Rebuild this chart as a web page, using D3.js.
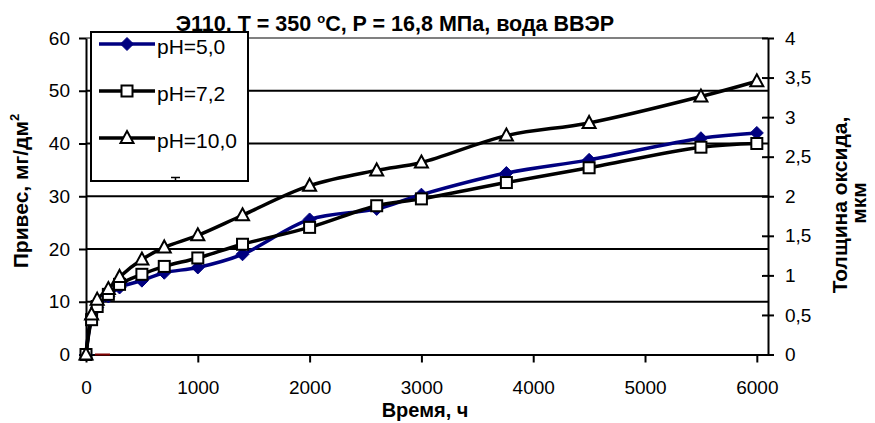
<!DOCTYPE html>
<html>
<head>
<meta charset="utf-8">
<script src="https://cdn.jsdelivr.net/npm/d3@7"></script>
<style>
  body { margin: 0; background: #fff; }
  text { font-family: "Liberation Sans", Arial, sans-serif; }
</style>
</head>
<body>
<script>
// time, h
var times = [0, 50, 100, 200, 300, 500, 700, 1000, 1400, 2000, 2600, 3000, 3760, 4500, 5500, 6000];
// weight gain, mg/dm2
var ph50 = [0, 6.8, 8.9, 11.0, 12.7, 14.0, 15.5, 16.5, 19.0, 25.6, 27.6, 30.3, 34.4, 36.9, 41.0, 42.0];
var ph72 = [0, 6.6, 9.1, 11.4, 13.3, 15.2, 16.7, 18.3, 20.9, 24.1, 28.2, 29.5, 32.6, 35.4, 39.3, 40.0];
var ph100 = [0, 7.6, 10.4, 12.4, 14.7, 18.0, 20.3, 22.6, 26.4, 32.0, 34.9, 36.4, 41.5, 43.9, 48.9, 51.8];
var seriesNames = ["pH=5,0", "pH=7,2", "pH=10,0"];

var xTicks = [0, 1000, 2000, 3000, 4000, 5000, 6000];
var yTicks = [0, 10, 20, 30, 40, 50, 60];
var y2Ticks = [0, 0.5, 1, 1.5, 2, 2.5, 3, 3.5, 4];
// short dark red stub lying on the zero line
var redStub = [[80, 0], [215, 0]];

const w = 875;
const h = 423;
const padL = 86, padR = 768, padT = 38, padB = 354.5;

const xScale = d3.scaleLinear().domain([0, 6100]).range([padL, padR]);
const yScale = d3.scaleLinear().domain([0, 60]).range([padB, padT]);
const y2Scale = d3.scaleLinear().domain([0, 4]).range([padB, padT]);

const svg = d3.select("body")
    .append("svg")
    .attr("width", w)
    .attr("height", h);

// gridlines
svg.selectAll("line.grid")
    .data(yTicks.filter((d) => d > 0 && d < 60))
    .enter()
    .append("line")
    .attr("class", "grid")
    .attr("x1", padL)
    .attr("x2", padR)
    .attr("y1", (d) => yScale(d))
    .attr("y2", (d) => yScale(d))
    .attr("stroke", "#000")
    .attr("stroke-width", 2);

// top border of plot area
svg.append("line")
    .attr("x1", padL).attr("x2", padR)
    .attr("y1", yScale(60)).attr("y2", yScale(60))
    .attr("stroke", "#808080")
    .attr("stroke-width", 2);

// axes
const xAxis = d3.axisBottom(xScale).tickValues(xTicks).tickSize(8).tickSizeOuter(0).tickPadding(18)
    .tickFormat(d3.format("d"));
const yAxis = d3.axisLeft(yScale).tickValues(yTicks).tickSize(7).tickSizeOuter(0).tickPadding(9);
const y2Axis = d3.axisRight(y2Scale).tickValues(y2Ticks).tickSize(6).tickSizeOuter(0).tickPadding(11)
    .tickFormat((d) => String(d).replace(".", ","));

svg.append("g")
    .attr("transform", "translate(0," + padB + ")")
    .call(xAxis);
svg.append("g")
    .attr("transform", "translate(" + padL + ",0)")
    .call(yAxis);
const g2 = svg.append("g")
    .attr("transform", "translate(" + padR + ",0)")
    .call(y2Axis);
// right ticks cross the axis
g2.selectAll(".tick line").attr("x1", -6);

svg.selectAll(".domain").attr("stroke", "#000").attr("stroke-width", 2);
svg.selectAll(".tick line").attr("stroke", "#000").attr("stroke-width", 2);
svg.selectAll(".tick text")
    .attr("fill", "#000")
    .style("font-size", "19px")
    .style("font-family", "'Liberation Sans', Arial, sans-serif");

svg.append("path")
    .datum(redStub)
    .attr("fill", "none")
    .attr("stroke", "#800000")
    .attr("stroke-width", 2)
    .attr("d", d3.line().x((d) => xScale(d[0])).y((d) => yScale(d[1])));

// series
var series = [
    { name: seriesNames[0], values: ph50, color: "#000080", marker: "diamond" },
    { name: seriesNames[1], values: ph72, color: "#000000", marker: "square" },
    { name: seriesNames[2], values: ph100, color: "#000000", marker: "triangle" }
];

const line = d3.line()
    .x((d) => xScale(d[0]))
    .y((d) => yScale(d[1]))
    .curve(d3.curveCatmullRom.alpha(0.5));

function drawMarker(g, type, color) {
    if (type === "diamond") {
        g.append("path").attr("d", "M0,-6.5L6.5,0L0,6.5L-6.5,0Z")
            .attr("fill", color).attr("stroke", color).attr("stroke-width", 1);
    } else if (type === "square") {
        g.append("rect").attr("x", -5.5).attr("y", -5.5).attr("width", 11).attr("height", 11)
            .attr("fill", "#fff").attr("stroke", "#000").attr("stroke-width", 2);
    } else {
        g.append("path").attr("d", "M0,-7L6.5,5L-6.5,5Z")
            .attr("fill", "#fff").attr("stroke", "#000").attr("stroke-width", 2);
    }
}

series.forEach((s) => {
    svg.append("path")
        .datum(times.map((t, i) => [t, s.values[i]]))
        .attr("fill", "none")
        .attr("stroke", s.color)
        .attr("stroke-width", 3.5)
        .attr("d", line);
});

series.forEach((s) => {
    times.forEach((t, i) => {
        const g = svg.append("g")
            .attr("transform", "translate(" + xScale(t) + "," + yScale(s.values[i]) + ")");
        drawMarker(g, s.marker, s.color);
    });
});

// title
const title = svg.append("text")
    .attr("x", 395)
    .attr("y", 30.5)
    .attr("text-anchor", "middle")
    .style("font-weight", "bold")
    .style("font-size", "21.5px");
title.append("tspan").text("Э110, T = 350 ");
title.append("tspan").attr("dy", -8).style("font-size", "13px").text("o");
title.append("tspan").attr("dy", 8).text("C, P = 16,8 МПа, вода ВВЭР");

// legend
const lg = svg.append("g");
lg.append("rect")
    .attr("x", 91).attr("y", 32).attr("width", 157).attr("height", 149)
    .attr("fill", "#fff").attr("stroke", "#000").attr("stroke-width", 2);

series.forEach((s, i) => {
    const ly = 44 + i * 47;
    lg.append("line")
        .attr("x1", 99).attr("x2", 155)
        .attr("y1", ly).attr("y2", ly)
        .attr("stroke", s.color).attr("stroke-width", 3.5);
    drawMarker(lg.append("g").attr("transform", "translate(127," + ly + ")"), s.marker, s.color);
    lg.append("text")
        .attr("x", 157)
        .attr("y", ly + 10)
        .style("font-size", "21px")
        .text(s.name);
});

// small stray mark near legend bottom
lg.append("path")
    .attr("d", "M171,177.5H180M175.5,177.5V181")
    .attr("stroke", "#000").attr("stroke-width", 1.5).attr("fill", "none");

// axis titles
svg.append("text")
    .attr("transform", "translate(28,191) rotate(-90)")
    .attr("text-anchor", "middle")
    .style("font-weight", "bold")
    .style("font-size", "21px")
    .html("Привес, мг/дм<tspan dy='-9' font-size='13px'>2</tspan>");

svg.append("text")
    .attr("transform", "translate(847,205) rotate(-90)")
    .attr("text-anchor", "middle")
    .style("font-weight", "bold")
    .style("font-size", "21px")
    .text("Толщина оксида,");

svg.append("text")
    .attr("transform", "translate(866,203) rotate(-90)")
    .attr("text-anchor", "middle")
    .style("font-weight", "bold")
    .style("font-size", "21px")
    .text("мкм");

svg.append("text")
    .attr("x", 425)
    .attr("y", 417)
    .attr("text-anchor", "middle")
    .style("font-weight", "bold")
    .style("font-size", "20px")
    .text("Время, ч");
</script>
</body>
</html>
